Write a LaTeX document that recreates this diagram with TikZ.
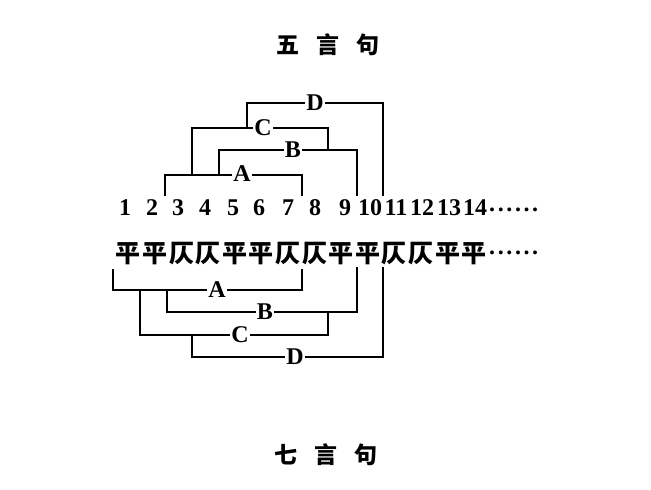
\documentclass[tikz,border=0pt]{standalone}
\usepackage{fontspec}
\newfontfamily\cjk{Noto Sans CJK SC}
\newfontfamily\tms{Liberation Serif}
\newcommand\mysixdots{.\kern2.6pt.\kern2.6pt.\kern2.6pt.\kern2.6pt.\kern2.6pt.}
\begin{document}
\begin{tikzpicture}[x=1pt,y=-1pt,
  br/.style={line width=2pt},
  lbl/.style={fill=white,inner sep=1.2pt,font=\fontsize{24}{24}\selectfont\tms\bfseries},
  dig/.style={inner sep=0pt,font=\fontsize{24}{24}\selectfont\tms\bfseries},
  ch/.style={inner sep=0pt,font=\fontsize{25}{25}\selectfont\cjk\bfseries},
  ttl/.style={inner sep=0pt,font=\fontsize{23}{23}\selectfont\cjk\bfseries},
  dots/.style={inner sep=0pt,anchor=west,font=\fontsize{24}{24}\selectfont\tms\bfseries}]
\useasboundingbox (0,0) rectangle (651,490);
% titles
\node[ttl] (t1) at (328,45) {五\kern17pt言\kern17pt句};
\node[ttl] (t2) at (326,455) {七\kern17pt言\kern17pt句};
% digits
\foreach \n/\x in {1/125,2/152,3/178,4/205,5/233,6/259,7/288,8/315,9/345,10/370,11/396,12/422,13/449,14/475}
  \node[dig] (d\n) at (\x,208) {\n};
\node[dots] (dd) at (489,210) {\mysixdots};
% characters
\foreach \c [count=\i] in {平,平,仄,仄,平,平,仄,仄,平,平,仄,仄,平,平}
  \node[ch] (c\i) at ({128.3+26.6*(\i-1)},254) {\c};
\node[dots] (cd) at (489,253) {\mysixdots};
% top brackets
\coordinate (tAl) at (165,175); \coordinate (tAr) at (302,175);
\coordinate (tBl) at (219,150); \coordinate (tBr) at (357,150);
\coordinate (tCl) at (192,128); \coordinate (tCr) at (328,128);
\coordinate (tDl) at (247,103); \coordinate (tDr) at (383,103);
\draw[br] (165,196) -- (tAl) -- (tAr) -- (302,196);
\draw[br] (219,175) -- (tBl) -- (tBr) -- (357,196);
\draw[br] (192,175) -- (tCl) -- (tCr) -- (328,150);
\draw[br] (247,128) -- (tDl) -- (tDr) -- (383,196);
\node[lbl] (lA1) at (242,174) {A};
\node[lbl] (lB1) at (293,150) {B};
\node[lbl] (lC1) at (263,128) {C};
\node[lbl] (lD1) at (315,103) {D};
% bottom brackets
\coordinate (bAl) at (113,290); \coordinate (bAr) at (302,290);
\coordinate (bBl) at (167,312); \coordinate (bBr) at (357,312);
\coordinate (bCl) at (140,335); \coordinate (bCr) at (328,335);
\coordinate (bDl) at (192,357); \coordinate (bDr) at (383,357);
\draw[br] (113,269) -- (bAl) -- (bAr) -- (302,269);
\draw[br] (167,290) -- (bBl) -- (bBr) -- (357,267);
\draw[br] (140,290) -- (bCl) -- (bCr) -- (328,312);
\draw[br] (192,335) -- (bDl) -- (bDr) -- (383,267);
\node[lbl] (lA2) at (217,290) {A};
\node[lbl] (lB2) at (265,312) {B};
\node[lbl] (lC2) at (240,335) {C};
\node[lbl] (lD2) at (295,357) {D};
\end{tikzpicture}
\end{document}
